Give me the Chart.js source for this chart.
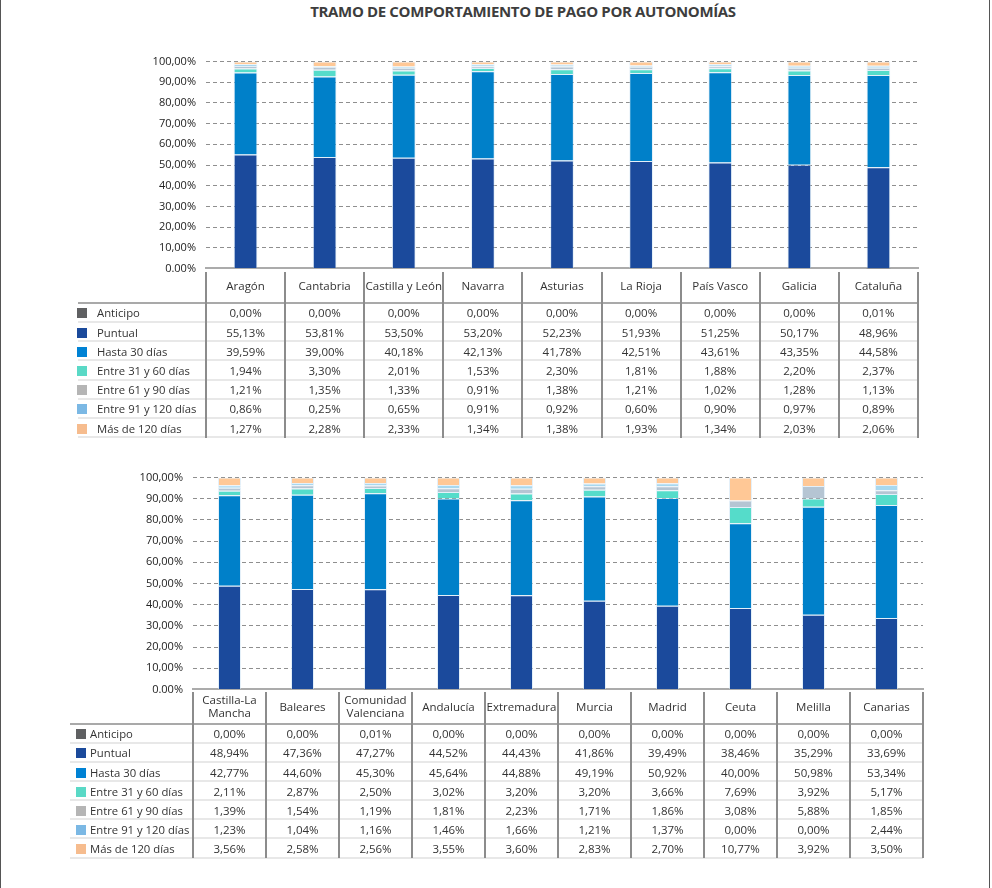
<!DOCTYPE html>
<html lang="es"><head><meta charset="utf-8">
<script src="https://cdn.jsdelivr.net/npm/chart.js@4.4.1/dist/chart.umd.min.js"></script>
<style>
html,body{margin:0;padding:0;background:#fff;}
body{width:992px;height:888px;position:relative;overflow:hidden;font-family:"Open Sans",sans-serif;}
.frame{position:absolute;top:0;height:888px;width:1px;background:#555;}
#title{position:absolute;left:0;width:1046px;top:1px;text-align:center;font-weight:700;font-size:15px;color:#3d3d3d;letter-spacing:-0.35px;white-space:nowrap;}
.cw{position:absolute;left:0;width:992px;}
.ln{position:absolute;}
.tx{position:absolute;white-space:nowrap;font-size:11.5px;color:#333;text-align:center;}
.nm{position:absolute;white-space:nowrap;font-size:11.3px;color:#333;}
.sq{position:absolute;width:10px;height:10px;}
</style></head>
<body>
<div class="frame" style="left:0"></div>
<div class="frame" style="left:989px"></div>
<div id="title">TRAMO DE COMPORTAMIENTO DE PAGO POR AUTONOMÍAS</div>
<div class="cw" id="w1" style="top:50px"><canvas id="c1" width="992" height="229"></canvas></div>
<div class="cw" id="w2" style="top:466px"><canvas id="c2" width="992" height="234"></canvas></div>
<script>
// ---- Data ----
const seriesNames = ['Anticipo','Puntual','Hasta 30 días','Entre 31 y 60 días','Entre 61 y 90 días','Entre 91 y 120 días','Más de 120 días'];
const yTicks = ['0.00%','10,00%','20,00%','30,00%','40,00%','50,00%','60,00%','70,00%','80,00%','90,00%','100,00%'];

const cats1 = ['Aragón','Cantabria','Castilla y León','Navarra','Asturias','La Rioja','País Vasco','Galicia','Cataluña'];
const anticipo1 = [0.00,0.00,0.00,0.00,0.00,0.00,0.00,0.00,0.01];
const puntual1  = [55.13,53.81,53.50,53.20,52.23,51.93,51.25,50.17,48.96];
const hasta30_1 = [39.59,39.00,40.18,42.13,41.78,42.51,43.61,43.35,44.58];
const e31_60_1  = [1.94,3.30,2.01,1.53,2.30,1.81,1.88,2.20,2.37];
const e61_90_1  = [1.21,1.35,1.33,0.91,1.38,1.21,1.02,1.28,1.13];
const e91_120_1 = [0.86,0.25,0.65,0.91,0.92,0.60,0.90,0.97,0.89];
const mas120_1  = [1.27,2.28,2.33,1.34,1.38,1.93,1.34,2.03,2.06];

const cats2 = [['Castilla-La','Mancha'],['Baleares'],['Comunidad','Valenciana'],['Andalucía'],['Extremadura'],['Murcia'],['Madrid'],['Ceuta'],['Melilla'],['Canarias']];
const anticipo2 = [0.00,0.00,0.01,0.00,0.00,0.00,0.00,0.00,0.00,0.00];
const puntual2  = [48.94,47.36,47.27,44.52,44.43,41.86,39.49,38.46,35.29,33.69];
const hasta30_2 = [42.77,44.60,45.30,45.64,44.88,49.19,50.92,40.00,50.98,53.34];
const e31_60_2  = [2.11,2.87,2.50,3.02,3.20,3.20,3.66,7.69,3.92,5.17];
const e61_90_2  = [1.39,1.54,1.19,1.81,2.23,1.71,1.86,3.08,5.88,1.85];
const e91_120_2 = [1.23,1.04,1.16,1.46,1.66,1.21,1.37,0.00,0.00,2.44];
const mas120_2  = [3.56,2.58,2.56,3.55,3.60,2.83,2.70,10.77,3.92,3.50];

// ---- Styles ----
const barColors = ['#5f6062','#1b4a9c','#0080c9','#55dcca','#b5c5d3','#a8d8ef','#ffc896'];
const legendColors = ['#5f6062','#1b4a9b','#0082d4','#5ad9c6','#b5b5b5','#7bb8e4','#f6bc8e'];

function makeChart(id, cats, series, areaLeft, padRight, barFrac){
  return new Chart(document.getElementById(id), {
    type:'bar',
    data:{
      labels: cats,
      datasets: series.map((s,i)=>({
        label: seriesNames[i], data: s,
        backgroundColor: barColors[i],
        borderColor: 'rgba(205,228,244,0.55)',
        borderWidth: i===0 ? 0 : 1,
        barPercentage: barFrac, categoryPercentage: 1
      }))
    },
    options:{
      responsive:false, maintainAspectRatio:false, animation:false,
      layout:{padding:{left:0,right:padRight,top:12,bottom:10}},
      plugins:{legend:{display:false},tooltip:{enabled:false}},
      scales:{
        x:{stacked:true, ticks:{display:false}, grid:{display:false,drawTicks:false},
           border:{display:true,color:'#ababab',width:2}},
        y:{stacked:true, min:0, max:100,
           ticks:{stepSize:10, callback:(v,i)=>yTicks[i], color:'#222', padding:10,
                  font:{family:'Open Sans',size:11}},
           grid:{drawTicks:false, lineWidth:1,
                 color:(c)=> c.tick && c.tick.value===0 ? 'rgba(0,0,0,0)' : '#8f8f8f'},
           border:{display:false, dash:[4,3]},
           afterFit:(s)=>{ s.width = areaLeft; }}
      }
    }
  });
}

// place the chart so that its plot area spans [areaTop, areaBottom] on the page
function placeChart(chart, wrapId, areaTop, areaBottom){
  for (let k=0;k<3;k++){
    const a = chart.chartArea;
    const h = Math.round(chart.height + (areaBottom - areaTop) - (a.bottom - a.top));
    if (h === chart.height) break;
    chart.resize(992, h);
  }
  const wrapTop = areaTop - chart.chartArea.top;
  document.getElementById(wrapId).style.top = wrapTop + 'px';
  return wrapTop;
}

function fmt(v){ return v.toFixed(2).replace('.',',') + '%'; }

function addDiv(cls, style, html){
  const d = document.createElement('div');
  d.className = cls;
  Object.assign(d.style, style);
  if (html !== undefined) d.innerHTML = html;
  document.body.appendChild(d);
  return d;
}

function drawTable(chart, canvasTop, cats, series, g){
  const a = chart.chartArea;
  const xs = chart.scales.x;
  const n = cats.length;
  const colW = (a.right - a.left) / n;
  const top = canvasTop + a.bottom + g.gap;
  const hdrBottom = top + g.hdrH;
  const rowsTop = hdrBottom + 2;
  const bottom = rowsTop + series.length * g.rowH;
  cats.forEach((c,i)=>{
    const cx = xs.getPixelForValue(i);
    const lines = Array.isArray(c) ? c : [c];
    addDiv('tx', {left:(cx-colW/2)+'px', width:colW+'px', top:(top + g.hdrH/2 - lines.length*6.5 - 1)+'px', lineHeight:'13px'}, lines.join('<br>'));
  });
  addDiv('ln', {left:g.legendLeft+'px', top:hdrBottom+'px', width:(a.right-g.legendLeft)+'px', height:'2px', background:'#a9a9a9'});
  series.forEach((s,r)=>{
    const ry = rowsTop + r*g.rowH;
    addDiv('sq', {left:g.sqLeft+'px', top:(ry + g.rowH/2 - 5)+'px', background:legendColors[r]});
    addDiv('nm', {left:g.textLeft+'px', top:(ry + g.rowH/2 - 8)+'px', lineHeight:'15px'}, seriesNames[r]);
    s.forEach((v,i)=>{
      const cx = xs.getPixelForValue(i);
      addDiv('tx', {left:(cx-colW/2)+'px', width:colW+'px', top:(ry + g.rowH/2 - 8)+'px', lineHeight:'15px'}, fmt(v));
    });
    addDiv('ln', {left:g.legendLeft+'px', top:(ry + g.rowH - 2)+'px', width:(a.right-g.legendLeft)+'px', height:'2px', background:'#e8e8e8'});
  });
  for (let k=0;k<=n;k++){
    const x = a.left + k*colW;
    addDiv('ln', {left:(x-1)+'px', top:top+'px', width:'2px', height:(bottom-top)+'px', background:'#8c8c8c'});
  }
}

const s1 = [anticipo1,puntual1,hasta30_1,e31_60_1,e61_90_1,e91_120_1,mas120_1];
const s2 = [anticipo2,puntual2,hasta30_2,e31_60_2,e61_90_2,e91_120_2,mas120_2];

const c1 = makeChart('c1', cats1, s1, 206, 74, 0.30);
const c2 = makeChart('c2', cats2, s2, 193, 69, 0.315);

const t1 = placeChart(c1, 'w1', 62, 269);
const t2 = placeChart(c2, 'w2', 478, 690);

drawTable(c1, t1, cats1, s1, {gap:3, hdrH:30, rowH:19.2, legendLeft:78, sqLeft:77, textLeft:97});
drawTable(c2, t2, cats2, s2, {gap:2, hdrH:31, rowH:19.1, legendLeft:70, sqLeft:76, textLeft:90});
</script>
</body></html>
